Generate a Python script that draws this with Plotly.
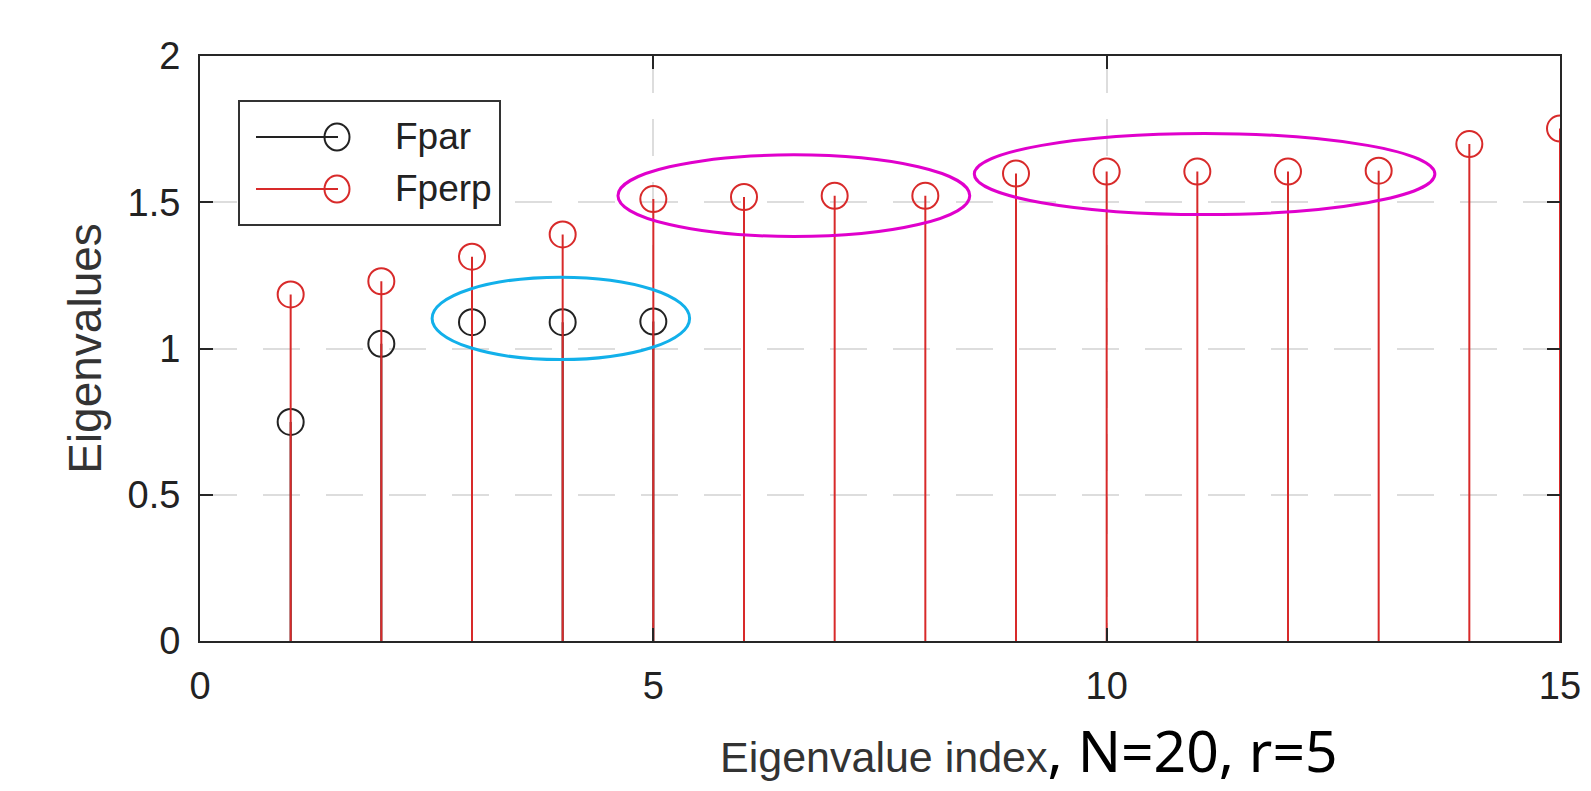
import plotly.graph_objects as go

# ---------------- data ----------------
idx_par = [1, 2, 3, 4, 5]
fpar = [0.749, 1.016, 1.090, 1.090, 1.092]

idx_perp = list(range(1, 16))
fperp = [1.185, 1.230, 1.314, 1.390, 1.511, 1.518, 1.522, 1.522,
         1.598, 1.605, 1.605, 1.605, 1.608, 1.699, 1.752]

x_ticks = [0, 5, 10, 15]
y_ticks = [0, 0.5, 1, 1.5, 2]
legend_names = ["Fpar", "Fperp"]

BLACK = "#222222"
RED = "#d82a2a"
CYAN = "#12b0ea"
MAGENTA = "#e000cc"
FONT = "Liberation Sans"


def stem_xy(xs, ys):
    sx, sy = [], []
    for x, y in zip(xs, ys):
        sx += [x, x, None]
        sy += [0, y, None]
    return sx, sy


fig = go.Figure()

for xs, ys, col in [(idx_par, fpar, BLACK), (idx_perp, fperp, RED)]:
    sx, sy = stem_xy(xs, ys)
    fig.add_trace(go.Scatter(x=sx, y=sy, mode="lines",
                             line=dict(color=col, width=2),
                             showlegend=False, hoverinfo="skip"))
    fig.add_trace(go.Scatter(x=xs, y=ys, mode="markers",
                             marker=dict(symbol="circle-open", size=26,
                                         color=col, line=dict(width=2, color=col)),
                             showlegend=False))

# ---------------- layout geometry ----------------
OFF = 8  # default page body margin
W, H = 1591 - OFF, 791 - OFF
ML, MR, MT, MB = 192, 31, 48, 150
PW, PH = W - ML - MR, H - MT - MB


def px_x(p):
    """window pixel x -> paper x"""
    return (p - OFF - ML) / PW


def px_y(p):
    """window pixel y -> paper y"""
    return (OFF + MT + PH - p) / PH


shapes = []
# highlight ellipses (data coordinates)
ellipses = [
    (2.56, 5.40, 0.962, 1.244, CYAN),
    (4.61, 8.49, 1.383, 1.662, MAGENTA),
    (8.54, 13.62, 1.458, 1.735, MAGENTA),
]
for x0, x1, y0, y1, c in ellipses:
    shapes.append(dict(type="circle", xref="x", yref="y", x0=x0, x1=x1, y0=y0, y1=y1,
                       line=dict(color=c, width=3), layer="above"))

# custom legend (MATLAB style)
shapes.append(dict(type="rect", xref="paper", yref="paper",
                   x0=px_x(239), x1=px_x(500), y0=px_y(225), y1=px_y(101),
                   line=dict(color="#333333", width=2), fillcolor="white", layer="above"))
annotations = []
for name, col, row_y in [(legend_names[0], BLACK, 137), (legend_names[1], RED, 189)]:
    shapes.append(dict(type="line", xref="paper", yref="paper",
                       x0=px_x(256), x1=px_x(338), y0=px_y(row_y), y1=px_y(row_y),
                       line=dict(color=col, width=2), layer="above"))
    shapes.append(dict(type="circle", xref="paper", yref="paper",
                       xsizemode="pixel", ysizemode="pixel",
                       xanchor=px_x(337), yanchor=px_y(row_y),
                       x0=-12.5, x1=12.5, y0=-13.5, y1=13.5,
                       line=dict(color=col, width=2), layer="above"))
    annotations.append(dict(xref="paper", yref="paper", x=px_x(393), y=px_y(row_y),
                            xanchor="left", yanchor="middle", showarrow=False,
                            text=name, font=dict(family=FONT, size=37, color=BLACK)))

# x-axis title (two fonts)
annotations.append(dict(
    xref="paper", yref="paper", x=px_x(718), y=px_y(750),
    xanchor="left", yanchor="middle", showarrow=False,
    text=("<span style='font-family:Liberation Sans;font-size:43px;color:#333333'>Eigenvalue index</span>"
          "<span style='font-family:Noto Sans;font-size:57px;color:#000000'>, N=20, r=5</span>"),
    font=dict(family=FONT, size=43, color=BLACK)))

axis_common = dict(
    showline=True, linecolor="#262626", linewidth=2, mirror="ticks",
    ticks="inside", ticklen=13, tickwidth=2, tickcolor="#262626",
    showgrid=True, gridcolor="#dddddd", gridwidth=1.5, griddash="37px,26px",
    zeroline=False, tickfont=dict(family=FONT, size=38, color=BLACK),
    automargin=False,
)

fig.update_layout(
    width=W, height=H,
    margin=dict(l=ML, r=MR, t=MT, b=MB, autoexpand=False),
    paper_bgcolor="white", plot_bgcolor="white",
    xaxis=dict(range=[0, 15], tickvals=x_ticks, ticktext=[str(v) for v in x_ticks],
               ticklabelstandoff=10, **axis_common),
    yaxis=dict(range=[0, 2], tickvals=y_ticks, ticktext=["0", "0.5", "1", "1.5", "2"],
               ticklabelstandoff=10,
               title=dict(text="Eigenvalues", font=dict(family=FONT, size=46, color="#333333"),
                          standoff=11),
               **axis_common),
    shapes=shapes, annotations=annotations,
    showlegend=False,
)

fig.write_html("out.html")
